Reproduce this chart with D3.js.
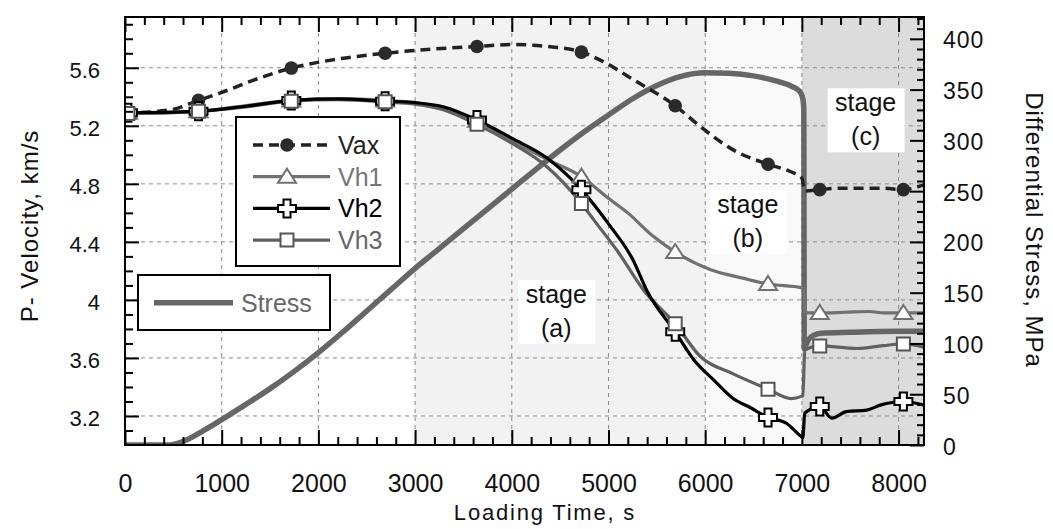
<!DOCTYPE html>
<html>
<head>
<meta charset="utf-8">
<script src="https://cdn.jsdelivr.net/npm/d3@7"></script>
<style>
  body { margin: 0; background: #fff; }
  svg text { font-family: 'Liberation Sans', Arial, sans-serif; }
</style>
</head>
<body>
<div id="main"></div>
<script>
// time (s) and values
const markTimes = [30, 760, 1720, 2690, 3640, 4720, 5690, 6650, 7185, 8050];
const vaxMarks = [5.29, 5.375, 5.598, 5.70, 5.747, 5.708, 5.338, 4.935, 4.76, 4.76];
const vh1Marks = [5.29, 5.30, 5.375, 5.375, 5.235, 4.85, 4.33, 4.11, 3.91, 3.91];
const vh2Marks = [5.29, 5.30, 5.375, 5.37, 5.24, 4.76, 3.78, 3.19, 3.265, 3.30];
const vh3Marks = [5.285, 5.30, 5.37, 5.365, 5.21, 4.665, 3.835, 3.385, 3.683, 3.697];

const vaxLine = [[0,5.29],[30,5.29],[465,5.31],[760,5.375],[980,5.425],[1330,5.515],[1720,5.598],[2200,5.66],[2690,5.70],[3200,5.73],[3640,5.747],[4010,5.76],[4400,5.745],[4720,5.708],[4910,5.655],[5260,5.517],[5690,5.338],[5950,5.195],[6290,5.034],[6650,4.935],[6880,4.885],[7000,4.84],[7030,4.75],[7185,4.76],[7390,4.77],[7840,4.77],[8050,4.76],[8263,4.795]];
const vh1Line = [[0,5.29],[30,5.29],[300,5.29],[760,5.30],[1250,5.34],[1720,5.375],[2200,5.385],[2690,5.375],[3000,5.36],[3300,5.32],[3640,5.235],[4000,5.10],[4360,4.97],[4720,4.85],[5000,4.70],[5200,4.60],[5460,4.44],[5690,4.33],[6050,4.21],[6390,4.15],[6650,4.11],[7000,4.085],[7020,4.08],[7030,3.91],[7185,3.91],[7450,3.915],[7700,3.92],[7850,3.91],[8050,3.91],[8263,3.91]];
const vh2Line = [[0,5.29],[30,5.29],[760,5.30],[1250,5.335],[1720,5.375],[2200,5.385],[2690,5.37],[3000,5.36],[3300,5.33],[3640,5.24],[4000,5.115],[4360,4.98],[4720,4.76],[5016,4.51],[5250,4.28],[5400,4.06],[5690,3.78],[5880,3.59],[6100,3.44],[6290,3.32],[6460,3.26],[6650,3.19],[6840,3.15],[6990,3.06],[7010,3.05],[7030,3.22],[7185,3.265],[7310,3.185],[7460,3.23],[7670,3.24],[7810,3.275],[8050,3.30],[8263,3.275]];
const vh3Line = [[0,5.285],[30,5.285],[760,5.30],[1250,5.33],[1720,5.37],[2200,5.38],[2690,5.365],[3000,5.35],[3300,5.31],[3640,5.21],[4000,5.08],[4360,4.92],[4720,4.665],[4850,4.55],[5100,4.33],[5360,4.07],[5690,3.835],[5950,3.61],[6290,3.49],[6650,3.385],[6890,3.32],[6995,3.335],[7010,3.34],[7030,3.655],[7185,3.683],[7570,3.665],[7840,3.685],[8050,3.697],[8263,3.675]];
const stressLine = [[0,0],[420,0],[500,0.6],[600,3.5],[700,8],[800,13.5],[900,19],[1000,25],[1250,40],[1500,55.5],[1750,72.5],[2000,91],[2250,111],[2500,132],[2750,153],[3000,174],[3250,193.5],[3500,213],[3750,232.5],[4000,252],[4250,271.5],[4500,290.5],[4750,308.5],[5000,325],[5250,341],[5500,354],[5750,363],[6000,366.5],[6250,366],[6500,363.5],[6750,358],[6900,353],[6980,348],[7010,341],[7020,330],[7025,95],[7040,98],[7070,104],[7120,108],[7200,110],[7500,111],[8000,112],[8263,112]];

const stageStarts = [3000, 6000, 7000];
const stageEnds = [6000, 7000, 8263];
const stageFills = ['#f2f2f2', '#f9f9f9', '#dcdcdc'];
const stageNames = ['(a)', '(b)', '(c)'];
const stageLabelT = [4460, 6440, 7660];
const stageLabelV = [3.98, 4.6, 5.3];

const xTicks = d3.range(0, 8001, 1000);
const yLTicks = [3.2, 3.6, 4, 4.4, 4.8, 5.2, 5.6];
const yRTicks = d3.range(0, 401, 50);

const w = 1053;
const h = 529;
const L = 125, T = 17, R = 924, B = 445;

const x = d3.scaleLinear().domain([0, 8263]).range([L, R]);
const yL = d3.scaleLinear().domain([3.0, 5.95]).range([B, T]);
const yR = d3.scaleLinear().domain([0, 421.5]).range([B, T]);

const svg = d3.select('#main')
    .append('svg')
    .attr('width', w)
    .attr('height', h);

svg.append('defs').append('clipPath')
    .attr('id', 'clip')
    .append('rect')
    .attr('x', L).attr('y', T)
    .attr('width', R - L).attr('height', B - T);

// stage shading
svg.append('g')
    .selectAll('rect')
    .data(stageStarts)
    .enter()
    .append('rect')
    .attr('x', d => x(d))
    .attr('y', T)
    .attr('width', (d, i) => x(stageEnds[i]) - x(d))
    .attr('height', B - T)
    .attr('fill', (d, i) => stageFills[i]);

// grid
const grid = svg.append('g')
    .attr('stroke', '#8a8a8a')
    .attr('stroke-width', 1)
    .attr('stroke-dasharray', '4,4');
grid.selectAll('.gx')
    .data(xTicks.filter(d => d > 0))
    .enter()
    .append('line')
    .attr('x1', d => x(d)).attr('x2', d => x(d))
    .attr('y1', T).attr('y2', B);
grid.selectAll('.gy')
    .data(yLTicks)
    .enter()
    .append('line')
    .attr('x1', L).attr('x2', R)
    .attr('y1', d => yL(d)).attr('y2', d => yL(d));

// stage labels
const stage = svg.append('g')
    .selectAll('g')
    .data(stageNames)
    .enter()
    .append('g')
    .attr('transform', (d, i) => `translate(${x(stageLabelT[i])}, ${yL(stageLabelV[i])})`);
stage.append('rect')
    .attr('x', -38).attr('y', -23)
    .attr('width', 77).attr('height', 64)
    .attr('fill', '#fff');
stage.append('text')
    .attr('text-anchor', 'middle')
    .attr('font-size', 25)
    .attr('fill', '#111')
    .text('stage');
stage.append('text')
    .attr('text-anchor', 'middle')
    .attr('y', 34)
    .attr('font-size', 25)
    .attr('fill', '#111')
    .text(d => d);

// data
const plot = svg.append('g').attr('clip-path', 'url(#clip)');
const lineL = d3.line().x(d => x(d[0])).y(d => yL(d[1])).curve(d3.curveMonotoneX);
const lineR = d3.line().x(d => x(d[0])).y(d => yR(d[1])).curve(d3.curveMonotoneX);

plot.append('path')
    .attr('d', lineR(stressLine))
    .attr('fill', 'none')
    .attr('stroke', '#666')
    .attr('stroke-width', 5.5);

plot.append('path')
    .attr('d', lineL(vaxLine))
    .attr('fill', 'none')
    .attr('stroke', '#222')
    .attr('stroke-width', 3.5)
    .attr('stroke-dasharray', '10,6');

plot.append('path')
    .attr('d', lineL(vh1Line))
    .attr('fill', 'none')
    .attr('stroke', '#707070')
    .attr('stroke-width', 3.2);

plot.append('path')
    .attr('d', lineL(vh3Line))
    .attr('fill', 'none')
    .attr('stroke', '#606060')
    .attr('stroke-width', 3.2);

plot.append('path')
    .attr('d', lineL(vh2Line))
    .attr('fill', 'none')
    .attr('stroke', '#000')
    .attr('stroke-width', 3.2);

const triPath = 'M0,-8L9,6L-9,6Z';
const crossPath = 'M-3.5,-9H3.5V-3.5H9V3.5H3.5V9H-3.5V3.5H-9V-3.5H-3.5Z';
const squarePath = 'M-6.5,-6.5H6.5V6.5H-6.5Z';

function marks(vals, shape, stroke, fill) {
    plot.append('g')
        .selectAll('path')
        .data(vals)
        .enter()
        .append('path')
        .attr('transform', (d, i) => `translate(${x(markTimes[i])}, ${yL(d)})`)
        .attr('d', shape)
        .attr('fill', fill)
        .attr('stroke', stroke)
        .attr('stroke-width', 2);
}

plot.append('g')
    .selectAll('circle')
    .data(vaxMarks)
    .enter()
    .append('circle')
    .attr('cx', (d, i) => x(markTimes[i]))
    .attr('cy', d => yL(d))
    .attr('r', 6.8)
    .attr('fill', '#2a2a2a');
marks(vh1Marks, triPath, '#707070', '#fff');
marks(vh2Marks, crossPath, '#000', '#fff');
marks(vh3Marks, squarePath, '#555', '#fff');

// axes
function styleAxis(g) {
    g.select('.domain').remove();
    g.selectAll('line').attr('stroke', '#000').attr('stroke-width', 2);
    g.selectAll('text').attr('fill', '#111');
}
const minorX = d3.range(0, 8263, 200).filter(d => d % 1000 !== 0);
const minorL = d3.range(3.1, 5.95, 0.1).filter(d => Math.abs(((d - 3.2) / 0.4) - Math.round((d - 3.2) / 0.4)) > 0.01);
const minorR = d3.range(10, 421, 10).filter(d => d % 50 !== 0);

svg.append('g')
    .attr('transform', `translate(0, ${B})`)
    .call(d3.axisBottom(x).tickValues(xTicks).tickSize(-15).tickPadding(29).tickFormat(d3.format('d')))
    .call(styleAxis)
    .call(g => g.selectAll('text').attr('font-size', 25).attr('font-family', "'Liberation Sans', Arial, sans-serif"));
svg.append('g')
    .attr('transform', `translate(0, ${B})`)
    .call(d3.axisBottom(x).tickValues(minorX).tickSize(-8).tickFormat(''))
    .call(styleAxis);
svg.append('g')
    .attr('transform', `translate(0, ${T})`)
    .call(d3.axisTop(x).tickValues(xTicks).tickSize(-15).tickFormat(''))
    .call(styleAxis);
svg.append('g')
    .attr('transform', `translate(0, ${T})`)
    .call(d3.axisTop(x).tickValues(minorX).tickSize(-8).tickFormat(''))
    .call(styleAxis);

svg.append('g')
    .attr('transform', `translate(${L}, 0)`)
    .call(d3.axisLeft(yL).tickValues(yLTicks).tickSize(-14).tickPadding(25).tickFormat(d => d === 4 ? '4' : d3.format('.1f')(d)))
    .call(styleAxis)
    .call(g => g.selectAll('text').attr('font-size', 22).attr('dy', 10).attr('font-family', "'Liberation Sans', Arial, sans-serif"));
svg.append('g')
    .attr('transform', `translate(${L}, 0)`)
    .call(d3.axisLeft(yL).tickValues(minorL).tickSize(-8).tickFormat(''))
    .call(styleAxis);

svg.append('g')
    .attr('transform', `translate(${R}, 0)`)
    .call(d3.axisRight(yR).tickValues(yRTicks).tickSize(-14).tickPadding(19))
    .call(styleAxis)
    .call(g => g.selectAll('text').attr('font-size', 23).attr('letter-spacing', 1).attr('dy', 9).attr('font-family', "'Liberation Sans', Arial, sans-serif"));
svg.append('g')
    .attr('transform', `translate(${R}, 0)`)
    .call(d3.axisRight(yR).tickValues(minorR).tickSize(-7).tickFormat(''))
    .call(styleAxis);

// frame
svg.append('rect')
    .attr('x', L).attr('y', T)
    .attr('width', R - L).attr('height', B - T)
    .attr('fill', 'none')
    .attr('stroke', '#000')
    .attr('stroke-width', 2);

// axis titles
svg.append('text')
    .attr('x', 545).attr('y', 520)
    .attr('text-anchor', 'middle')
    .attr('font-size', 22)
    .attr('letter-spacing', 1.8)
    .attr('fill', '#111')
    .text('Loading Time, s');
svg.append('text')
    .attr('transform', 'translate(38, 226) rotate(-90)')
    .attr('text-anchor', 'middle')
    .attr('font-size', 24)
    .attr('letter-spacing', 1)
    .attr('fill', '#111')
    .text('P- Velocity, km/s');
svg.append('text')
    .attr('transform', 'translate(1026, 230) rotate(90)')
    .attr('text-anchor', 'middle')
    .attr('font-size', 24)
    .attr('letter-spacing', 1)
    .attr('fill', '#111')
    .text('Differential Stress, MPa');

// legend
const legNames = ['Vax', 'Vh1', 'Vh2', 'Vh3'];
const legColors = ['#222', '#707070', '#000', '#606060'];
const legText = ['#222', '#777', '#000', '#666'];
const legShapes = [null, triPath, crossPath, squarePath];

const legend = svg.append('g');
legend.append('rect')
    .attr('x', 236).attr('y', 117)
    .attr('width', 164).attr('height', 149)
    .attr('fill', '#fff')
    .attr('stroke', '#000')
    .attr('stroke-width', 2);
const item = legend.selectAll('g')
    .data(legNames)
    .enter()
    .append('g')
    .attr('transform', (d, i) => `translate(0, ${145 + i * 31.7})`);
item.append('line')
    .attr('x1', 253).attr('x2', 330)
    .attr('stroke', (d, i) => legColors[i])
    .attr('stroke-width', (d, i) => i === 0 ? 3.5 : 3.2)
    .attr('stroke-dasharray', (d, i) => i === 0 ? '10,6' : null);
item.each(function (d, i) {
    const g = d3.select(this);
    if (i === 0) {
        g.append('circle').attr('cx', 287).attr('r', 6.8).attr('fill', '#2a2a2a');
    } else {
        g.append('path')
            .attr('transform', 'translate(287, 0)')
            .attr('d', legShapes[i])
            .attr('fill', '#fff')
            .attr('stroke', i === 3 ? '#555' : legColors[i])
            .attr('stroke-width', 2);
    }
});
item.append('text')
    .attr('x', 338).attr('y', 9)
    .attr('font-size', 25)
    .attr('fill', (d, i) => legText[i])
    .text(d => d);

const legend2 = svg.append('g');
legend2.append('rect')
    .attr('x', 138).attr('y', 275)
    .attr('width', 192).attr('height', 55)
    .attr('fill', '#fff')
    .attr('stroke', '#000')
    .attr('stroke-width', 2);
legend2.append('line')
    .attr('x1', 154).attr('x2', 233)
    .attr('y1', 302.7).attr('y2', 302.7)
    .attr('stroke', '#666')
    .attr('stroke-width', 5.5);
legend2.append('text')
    .attr('x', 241).attr('y', 312)
    .attr('font-size', 25)
    .attr('fill', '#666')
    .text('Stress');
</script>
</body>
</html>
